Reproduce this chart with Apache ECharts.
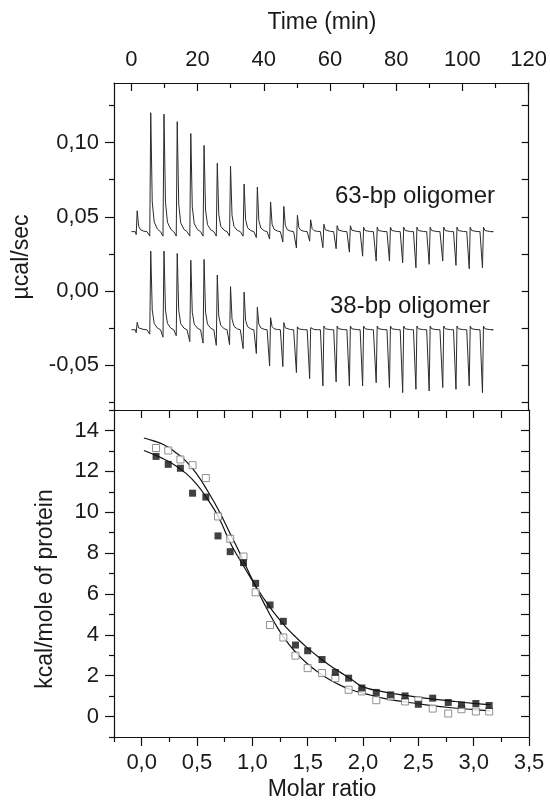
<!DOCTYPE html>
<html>
<head>
<meta charset="utf-8">
<script src="https://cdn.jsdelivr.net/npm/echarts@6/dist/echarts.min.js"></script>
<style>
html,body{margin:0;padding:0;background:#fff;}
#chart{width:550px;height:805px;}
</style>
</head>
<body>
<div id="chart"></div>
<script>
// ---------- Data ----------
// Top panel: raw ITC thermograms (time in min, power in µcal/sec)
const injTimes = [1.2, 5.3, 9.3, 13.3, 17.4, 21.4, 25.4, 29.4, 33.5, 37.5, 41.5, 45.5, 49.6, 53.6,
                  57.6, 61.6, 65.6, 69.6, 73.7, 77.7, 81.7, 85.7, 89.7, 93.8, 97.8, 101.8, 105.8];
const traceStart = 0;
const traceEnd = 108.7;
const base63 = 0.040;
const peak63 = [0.054, 0.120, 0.119, 0.114, 0.106, 0.098, 0.086, 0.084, 0.072, 0.070, 0.060, 0.057, 0.051, 0.048,
                0.045, 0.044, 0.044, 0.043, 0.043, 0.043, 0.043, 0.043, 0.043, 0.043, 0.043, 0.043, 0.043];
const dip63  = [0.038, 0.037, 0.037, 0.037, 0.037, 0.037, 0.037, 0.037, 0.037, 0.036, 0.035, 0.033, 0.029, 0.0336,
                0.0292, 0.0285, 0.0262, 0.0235, 0.0202, 0.0202, 0.019, 0.0157, 0.018, 0.0202, 0.0173, 0.015, 0.0157];
const base38 = -0.026;
const peak38 = [-0.021, 0.0269, 0.0269, 0.0253, 0.0208, 0.0213, 0.0108, 0.0030, -0.0007, -0.0108, -0.0179, -0.0212, -0.0240, -0.0246,
                -0.0235, -0.0235, -0.0235, -0.0235, -0.0235, -0.0235, -0.0235, -0.0235, -0.0235, -0.0235, -0.0235, -0.0235, -0.0235];
const dip38  = [-0.028, -0.029, -0.031, -0.030, -0.034, -0.035, -0.0365, -0.036, -0.0387, -0.042, -0.0504, -0.0508, -0.0548, -0.0589,
                -0.0638, -0.0611, -0.0638, -0.0638, -0.0616, -0.0649, -0.0683, -0.0661, -0.0672, -0.0649, -0.0661, -0.0638, -0.0683];

// Bottom panel: integrated heats (molar ratio vs kcal/mole of protein)
const molarX  = [0.13, 0.24, 0.35, 0.46, 0.58, 0.69, 0.80, 0.92, 1.03, 1.16, 1.28, 1.39, 1.50,
                 1.63, 1.75, 1.87, 1.99, 2.12, 2.25, 2.38, 2.50, 2.63, 2.77, 2.89, 3.02, 3.14];
const filledY = [12.73, 12.34, 12.15, 10.93, 10.74, 8.84, 8.07, 7.53, 6.52, 5.46, 4.66, 3.50, 3.22,
                 2.79, 2.16, 1.88, 1.40, 1.18, 1.06, 1.01, 0.60, 0.90, 0.69, 0.57, 0.64, 0.54];
const openY   = [13.14, 13.02, 12.58, 12.30, 11.67, 9.79, 8.70, 7.83, 6.08, 4.48, 3.87, 2.98, 2.37,
                 2.13, 1.88, 1.31, 1.23, 0.80, 0.98, 0.74, 0.80, 0.39, 0.15, 0.36, 0.25, 0.25];
const fitX      = [0.02, 0.1, 0.2, 0.3, 0.4, 0.5, 0.6, 0.7, 0.8, 0.9, 1.0, 1.1, 1.2, 1.3, 1.4, 1.5, 1.6, 1.7, 1.8, 1.9, 2.0, 2.2, 2.4, 2.6, 2.8, 3.0, 3.15];
const fitFilled = [13.02, 12.85, 12.6, 12.3, 11.9, 11.35, 10.6, 9.7, 8.5, 7.55, 6.65, 5.8, 5.05, 4.4, 3.85, 3.35, 2.9, 2.5, 2.15, 1.8, 1.45, 1.2, 1.02, 0.88, 0.76, 0.65, 0.58];
const fitOpen   = [13.63, 13.5, 13.3, 12.95, 12.5, 11.85, 11.0, 10.05, 8.95, 7.85, 6.7, 5.6, 4.6, 3.75, 3.1, 2.57, 2.15, 1.8, 1.52, 1.3, 1.15, 0.88, 0.7, 0.55, 0.43, 0.34, 0.28];

// Tick values
const timeMajor = [0, 20, 40, 60, 80, 100, 120];
const timeMinor = [10, 30, 50, 70, 90, 110];
const powerMajor = [-0.05, 0, 0.05, 0.10];
const powerMinor = [-0.075, -0.025, 0.025, 0.075, 0.125];
const molarMajor = [0, 0.5, 1.0, 1.5, 2.0, 2.5, 3.0, 3.5];
const molarMinor = [-0.25, 0.25, 0.75, 1.25, 1.75, 2.25, 2.75, 3.25];
const heatMajor = [0, 2, 4, 6, 8, 10, 12, 14];
const heatMinor = [-1, 1, 3, 5, 7, 9, 11, 13, 15];

// ---------- Build thermogram polylines (shape template = style only) ----------
// each entry: [time offset, fraction of peak above baseline, which value]
const SPIKE = [[0, 0, 'p'], [0.25, 0, 'd'], [0.55, 1, 'p'], [1.0, 0.25, 'p'], [1.6, 0.08, 'p'], [2.6, 0.02, 'p'], [3.5, 0, 'p']];
function buildTrace(base, peaks, dips) {
  const pts = [[traceStart, base]];
  injTimes.forEach((t, i) => {
    SPIKE.forEach(([dt, f, kind]) => {
      const v = kind === 'd' ? dips[i] : base + (peaks[i] - base) * f;
      pts.push([t + dt, v]);
    });
  });
  pts.push([traceEnd, base]);
  return pts;
}
const trace63 = buildTrace(base63, peak63, dip63);
const trace38 = buildTrace(base38, peak38, dip38);
const zip = (xs, ys) => xs.map((x, i) => [x, ys[i]]);

// ---------- Chart ----------
const FONT = "'Liberation Sans', Arial, Helvetica, sans-serif";
const TXT = '#1a1a1a';
const LINE = {show: true, onZero: false, lineStyle: {color: '#111', width: 1.2}};
const noLine = {show: false, onZero: false};
const comma = (d) => (v) => v.toFixed(d).replace('.', ',');
const lbl = (vals, fmt, margin) => ({show: true, customValues: vals, formatter: fmt, color: TXT, fontSize: 22, fontFamily: FONT, margin: margin});
const tick = (vals, len, inside) => ({show: true, customValues: vals, length: len, inside: inside, lineStyle: {color: '#111', width: 1.2}});
const base = {type: 'value', splitLine: {show: false}, axisPointer: {show: false}};

const chart = echarts.init(document.getElementById('chart'), null, {renderer: 'canvas'});
chart.setOption({
  animation: false,
  backgroundColor: '#fff',
  grid: [
    {left: 114, right: 21, top: 83, height: 327},
    {left: 114, right: 21, top: 410, height: 327}
  ],
  xAxis: [
    Object.assign({}, base, {gridIndex: 0, position: 'top', min: -5.25, max: 120, axisLine: LINE,
      axisTick: tick(timeMajor, 8, true), axisLabel: lbl(timeMajor, (v) => String(Math.round(v)), 12)}),
    Object.assign({}, base, {gridIndex: 0, position: 'top', min: -5.25, max: 120, axisLine: noLine,
      axisTick: tick(timeMinor, 5, true), axisLabel: {show: false}}),
    Object.assign({}, base, {gridIndex: 0, position: 'bottom', min: -5.25, max: 120, axisLine: LINE,
      axisTick: {show: false}, axisLabel: {show: false}}),
    Object.assign({}, base, {gridIndex: 1, position: 'bottom', min: -0.25, max: 3.5, axisLine: LINE,
      axisTick: tick(molarMajor, 9, false), axisLabel: lbl(molarMajor, comma(1), 15)}),
    Object.assign({}, base, {gridIndex: 1, position: 'bottom', min: -0.25, max: 3.5, axisLine: noLine,
      axisTick: tick(molarMinor, 5, false), axisLabel: {show: false}}),
    Object.assign({}, base, {gridIndex: 1, position: 'top', min: -0.25, max: 3.5, axisLine: LINE,
      axisTick: tick([0, 0.25, 0.5, 0.75, 1.0, 1.25, 1.5, 1.75, 2.0, 2.25, 2.5, 2.75, 3.0, 3.25], 8, true), axisLabel: {show: false}})
  ],
  yAxis: [
    Object.assign({}, base, {gridIndex: 0, position: 'left', min: -0.08, max: 0.14, axisLine: LINE,
      axisTick: tick(powerMajor, 9, false), axisLabel: lbl(powerMajor, comma(2), 15)}),
    Object.assign({}, base, {gridIndex: 0, position: 'left', min: -0.08, max: 0.14, axisLine: noLine,
      axisTick: tick(powerMinor, 5, false), axisLabel: {show: false}}),
    Object.assign({}, base, {gridIndex: 0, position: 'right', min: -0.08, max: 0.14, axisLine: LINE,
      axisTick: tick([-0.075, -0.05, -0.025, 0, 0.025, 0.05, 0.075, 0.1, 0.125], 7, true), axisLabel: {show: false}}),
    Object.assign({}, base, {gridIndex: 1, position: 'left', min: -1, max: 15, axisLine: LINE,
      axisTick: tick(heatMajor, 9, false), axisLabel: lbl(heatMajor, (v) => String(Math.round(v)), 15)}),
    Object.assign({}, base, {gridIndex: 1, position: 'left', min: -1, max: 15, axisLine: noLine,
      axisTick: tick(heatMinor, 5, false), axisLabel: {show: false}}),
    Object.assign({}, base, {gridIndex: 1, position: 'right', min: -1, max: 15, axisLine: LINE,
      axisTick: tick([0, 1, 2, 3, 4, 5, 6, 7, 8, 9, 10, 11, 12, 13, 14], 8, true), axisLabel: {show: false}})
  ],
  series: [
    {name: '63-bp oligomer', type: 'line', xAxisIndex: 0, yAxisIndex: 0, data: trace63, symbol: 'none',
      lineStyle: {color: '#2b2b2b', width: 1}, silent: true},
    {name: '38-bp oligomer', type: 'line', xAxisIndex: 0, yAxisIndex: 0, data: trace38, symbol: 'none',
      lineStyle: {color: '#2b2b2b', width: 1}, silent: true},
    {name: 'fit filled', type: 'line', xAxisIndex: 3, yAxisIndex: 3, data: zip(fitX, fitFilled), symbol: 'none', smooth: true,
      lineStyle: {color: '#111', width: 1.2}, z: 2},
    {name: 'fit open', type: 'line', xAxisIndex: 3, yAxisIndex: 3, data: zip(fitX, fitOpen), symbol: 'none', smooth: true,
      lineStyle: {color: '#111', width: 1.2}, z: 2},
    {name: 'open', type: 'scatter', xAxisIndex: 3, yAxisIndex: 3, data: zip(molarX, openY), symbol: 'rect', symbolSize: 7,
      itemStyle: {color: '#fff', borderColor: '#777', borderWidth: 1}, z: 3},
    {name: 'filled', type: 'scatter', xAxisIndex: 3, yAxisIndex: 3, data: zip(molarX, filledY), symbol: 'rect', symbolSize: 7,
      itemStyle: {color: '#111'}, z: 4}
  ],
  graphic: [
    {type: 'text', style: {text: 'Time (min)', font: '23px ' + FONT, fill: TXT, textAlign: 'center', textVerticalAlign: 'middle'}, position: [322, 23]},
    {type: 'text', style: {text: 'Molar ratio', font: '23px ' + FONT, fill: TXT, textAlign: 'center', textVerticalAlign: 'middle'}, position: [322, 790]},
    {type: 'text', style: {text: 'µcal/sec', font: '23px ' + FONT, fill: TXT, textAlign: 'center', textVerticalAlign: 'middle'}, position: [22, 257], rotation: Math.PI / 2},
    {type: 'text', style: {text: 'kcal/mole of protein', font: '23px ' + FONT, fill: TXT, textAlign: 'center', textVerticalAlign: 'middle'}, position: [46, 589], rotation: Math.PI / 2},
    {type: 'text', style: {text: '63-bp oligomer', font: '24px ' + FONT, fill: TXT, textAlign: 'center', textVerticalAlign: 'middle'}, position: [415, 196]},
    {type: 'text', style: {text: '38-bp oligomer', font: '24px ' + FONT, fill: TXT, textAlign: 'center', textVerticalAlign: 'middle'}, position: [410, 306]}
  ]
});
</script>
</body>
</html>
